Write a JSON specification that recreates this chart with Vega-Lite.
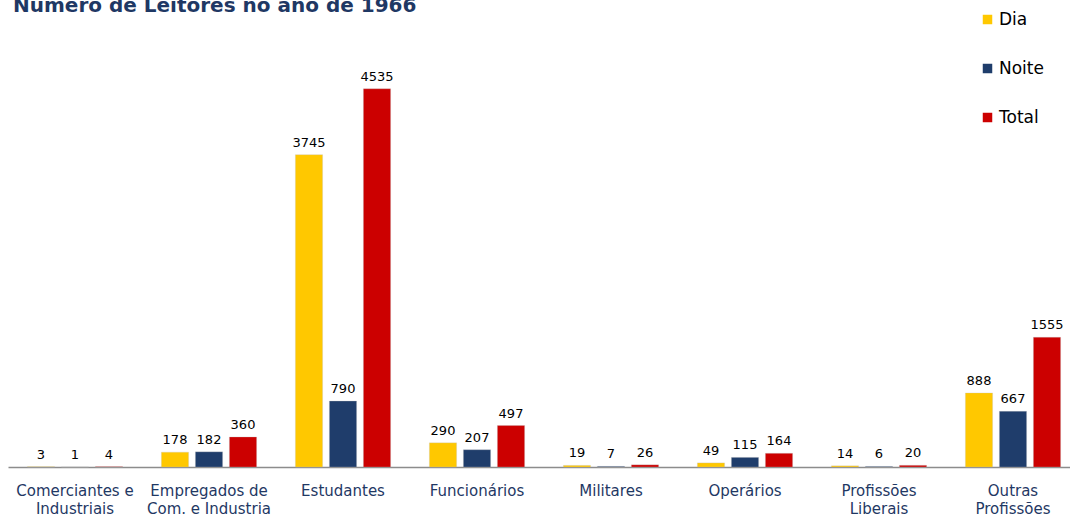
{
  "$schema": "https://vega.github.io/schema/vega-lite/v6.json",
  "autosize": "none",
  "width": 1072,
  "height": 417,
  "padding": {"left": 8, "top": 50, "right": 0, "bottom": 50},
  "background": "white",
  "config": {"view": {"stroke": null}},
  "title": {
    "text": "Número de Leitores no ano de 1966",
    "anchor": "start",
    "frame": "group",
    "font": "DejaVu Sans",
    "fontSize": 20,
    "fontWeight": "bold",
    "color": "#1F3864",
    "offset": -5,
    "dx": 5
  },
  "data": {
    "values": [
      {"categoria": "Comerciantes e|Industriais", "turno": "Dia", "leitores": 3},
      {"categoria": "Comerciantes e|Industriais", "turno": "Noite", "leitores": 1},
      {"categoria": "Comerciantes e|Industriais", "turno": "Total", "leitores": 4},
      {"categoria": "Empregados de|Com. e Industria", "turno": "Dia", "leitores": 178},
      {"categoria": "Empregados de|Com. e Industria", "turno": "Noite", "leitores": 182},
      {"categoria": "Empregados de|Com. e Industria", "turno": "Total", "leitores": 360},
      {"categoria": "Estudantes", "turno": "Dia", "leitores": 3745},
      {"categoria": "Estudantes", "turno": "Noite", "leitores": 790},
      {"categoria": "Estudantes", "turno": "Total", "leitores": 4535},
      {"categoria": "Funcionários", "turno": "Dia", "leitores": 290},
      {"categoria": "Funcionários", "turno": "Noite", "leitores": 207},
      {"categoria": "Funcionários", "turno": "Total", "leitores": 497},
      {"categoria": "Militares", "turno": "Dia", "leitores": 19},
      {"categoria": "Militares", "turno": "Noite", "leitores": 7},
      {"categoria": "Militares", "turno": "Total", "leitores": 26},
      {"categoria": "Operários", "turno": "Dia", "leitores": 49},
      {"categoria": "Operários", "turno": "Noite", "leitores": 115},
      {"categoria": "Operários", "turno": "Total", "leitores": 164},
      {"categoria": "Profissões|Liberais", "turno": "Dia", "leitores": 14},
      {"categoria": "Profissões|Liberais", "turno": "Noite", "leitores": 6},
      {"categoria": "Profissões|Liberais", "turno": "Total", "leitores": 20},
      {"categoria": "Outras|Profissões", "turno": "Dia", "leitores": 888},
      {"categoria": "Outras|Profissões", "turno": "Noite", "leitores": 667},
      {"categoria": "Outras|Profissões", "turno": "Total", "leitores": 1555}
    ]
  },
  "encoding": {
    "x": {
      "field": "categoria",
      "type": "nominal",
      "sort": null,
      "scale": {"paddingInner": 0, "paddingOuter": 0},
      "axis": {
        "title": null,
        "labelAngle": 0,
        "labelExpr": "split(datum.label, '|')",
        "labelFont": "DejaVu Sans",
        "labelFontSize": 15,
        "labelColor": "#1F3864",
        "labelLineHeight": 18,
        "labelPadding": 16,
        "ticks": false,
        "domainColor": "#8C8C8C",
        "domainWidth": 1.5
      }
    },
    "xOffset": {
      "field": "turno",
      "type": "nominal",
      "scale": {"domain": ["Dia", "Noite", "Total"], "paddingInner": 0.2, "paddingOuter": 0.57}
    },
    "y": {
      "field": "leitores",
      "type": "quantitative",
      "scale": {"domain": [0, 5000]},
      "axis": null
    }
  },
  "layer": [
    {
      "mark": {"type": "bar", "stroke": "#BFBFBF", "strokeWidth": 0.5, "strokeOpacity": 0.6},
      "encoding": {
        "color": {
          "field": "turno",
          "type": "nominal",
          "scale": {"domain": ["Dia", "Noite", "Total"], "range": ["#FFC800", "#1F3D6B", "#CC0000"]},
          "legend": {
            "title": null,
            "orient": "none",
            "legendX": 971,
            "legendY": -39,
            "symbolType": "square",
            "symbolSize": 90,
            "symbolStrokeWidth": 0,
            "labelFont": "DejaVu Sans",
            "labelFontSize": 17,
            "labelColor": "#000000",
            "labelOffset": 3,
            "rowPadding": 31
          }
        }
      }
    },
    {
      "mark": {"type": "text", "dy": -12, "font": "DejaVu Sans", "fontSize": 13, "color": "#000000"},
      "encoding": {
        "text": {"field": "leitores", "type": "quantitative"}
      }
    }
  ]
}
